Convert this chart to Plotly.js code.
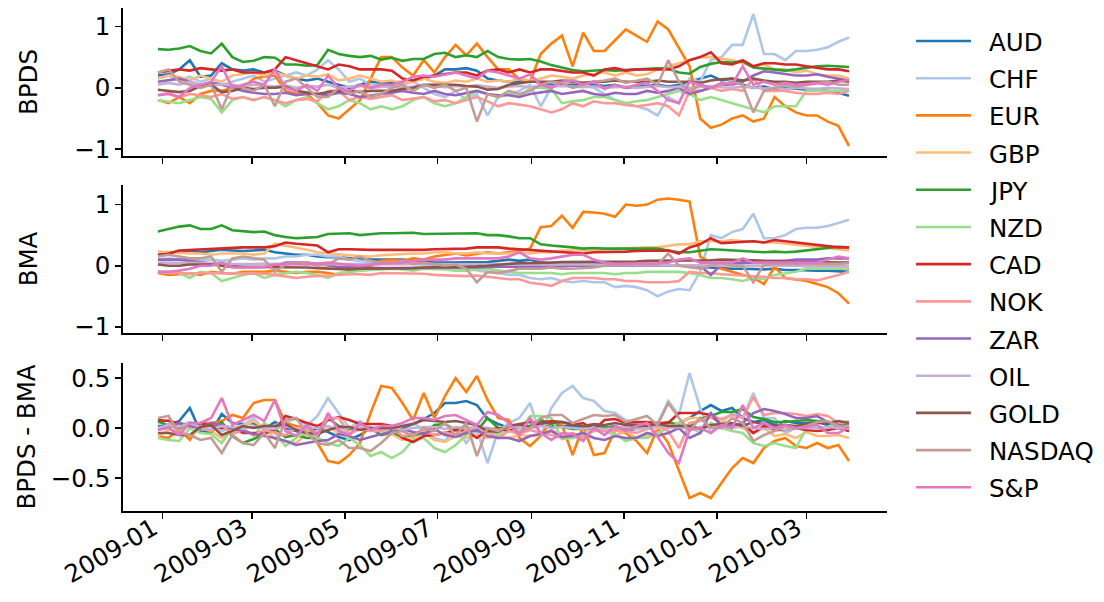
<!DOCTYPE html>
<html>
<head>
<meta charset="utf-8">
<script src="https://cdn.plot.ly/plotly-3.0.1.min.js"></script>
<style>html,body{margin:0;padding:0;background:#fff;}#chart{width:1104px;height:602px;}</style>
</head>
<body>
<div id="chart"></div>
<script>
// Weekly samples, first Monday 2008-12-29, 66 weeks
const startDate = '2008-12-29';
const nWeeks = 66;

const seriesNames = ['AUD','CHF','EUR','GBP','JPY','NZD','CAD','NOK','ZAR','OIL','GOLD','NASDAQ','S&P'];
const seriesColors = ['#1f77b4','#aec7e8','#ff7f0e','#ffbb78','#2ca02c','#98df8a','#d62728','#ff9896','#9467bd','#c5b0d5','#8c564b','#c49c94','#e377c2'];

const panelTitles = ['BPDS','BMA','BPDS - BMA'];
const xTickVals = ['2009-01-01','2009-03-01','2009-05-01','2009-07-01','2009-09-01','2009-11-01','2010-01-01','2010-03-01'];
const xTickText = ['2009-01','2009-03','2009-05','2009-07','2009-09','2009-11','2010-01','2010-03'];

// ---- BPDS ----
const AUD_BPDS = [0.2,0.22,0.3,0.45,0.18,0.2,0.4,0.3,0.28,0.3,0.25,
 0.28,0.2,0.15,0.12,0.15,0.1,0.05,0.0,0.05,0.1,0.08,
 0.08,0.1,0.12,0.15,0.2,0.3,0.3,0.32,0.28,0.15,0.12,
 0.1,0.1,0.12,0.08,0.05,0.05,0.05,0.04,0.05,0.03,0.05,
 0.0,0.02,0.04,0.05,0.02,0.05,0.1,0.15,0.2,0.12,0.15,
 0.05,0.0,0.02,-0.02,0.0,-0.02,-0.03,-0.02,-0.05,-0.08,-0.13];
const CHF_BPDS = [0.15,0.2,0.12,0.18,0.1,0.15,0.05,0.1,0.15,0.2,0.1,
 0.15,0.2,0.25,0.2,0.3,0.45,0.3,0.1,0.15,0.05,0.05,
 0.0,0.05,0.1,0.0,-0.1,-0.15,-0.05,-0.2,-0.1,-0.45,-0.15,
 -0.1,-0.05,0.05,-0.3,0.0,0.1,0.15,0.05,0.0,-0.1,-0.2,
 -0.25,-0.3,-0.35,-0.45,-0.15,-0.25,0.15,0.1,0.45,0.5,0.7,
 0.7,1.2,0.55,0.55,0.45,0.6,0.6,0.62,0.66,0.75,0.82];
const EUR_BPDS = [-0.2,-0.25,-0.15,-0.25,-0.1,-0.05,-0.05,0.0,0.0,0.15,0.18,
 0.2,-0.05,-0.1,-0.1,-0.25,-0.45,-0.5,-0.35,-0.2,0.15,0.5,
 0.5,0.33,0.2,0.45,0.25,0.5,0.7,0.53,0.72,0.5,0.3,
 0.3,0.14,0.1,0.55,0.72,0.85,0.35,0.9,0.6,0.6,0.78,
 0.95,0.85,0.75,1.08,0.95,0.65,0.35,-0.5,-0.65,-0.6,-0.5,
 -0.45,-0.55,-0.5,-0.15,-0.3,-0.4,-0.45,-0.45,-0.55,-0.62,-0.95];
const GBP_BPDS = [0.15,0.2,0.18,0.12,0.2,0.15,0.1,0.2,0.22,0.25,0.2,
 0.25,0.2,0.15,0.2,0.18,0.22,0.12,0.15,0.2,0.15,0.1,
 0.12,0.08,0.1,0.15,0.1,0.08,0.12,0.1,0.15,0.1,0.12,
 0.1,0.15,0.12,0.15,0.2,0.18,0.15,0.2,0.22,0.25,0.2,
 0.25,0.2,0.22,0.3,0.35,0.4,0.45,0.5,0.5,0.48,0.45,
 0.4,0.35,0.38,0.3,0.3,0.25,0.28,0.22,0.2,0.2,0.15];
const JPY_BPDS = [0.63,0.62,0.64,0.68,0.6,0.56,0.72,0.5,0.42,0.44,0.5,
 0.49,0.38,0.38,0.36,0.37,0.62,0.55,0.52,0.5,0.52,0.46,
 0.49,0.44,0.47,0.47,0.55,0.57,0.5,0.53,0.5,0.6,0.5,
 0.47,0.46,0.47,0.43,0.37,0.33,0.29,0.27,0.28,0.29,0.28,
 0.29,0.3,0.3,0.32,0.31,0.25,0.23,0.34,0.39,0.42,0.41,
 0.43,0.33,0.31,0.29,0.28,0.3,0.33,0.35,0.36,0.35,0.34];
const NZD_BPDS = [-0.2,-0.22,-0.25,-0.2,-0.15,-0.18,-0.4,-0.2,-0.15,-0.2,-0.15,
 -0.2,-0.3,-0.2,-0.15,-0.25,-0.35,-0.3,-0.2,-0.25,-0.35,-0.3,
 -0.35,-0.3,-0.2,-0.15,-0.25,-0.3,-0.25,-0.15,-0.05,-0.1,-0.15,
 -0.1,-0.15,0.0,0.0,-0.02,-0.25,-0.22,-0.2,-0.15,-0.15,-0.2,
 -0.25,-0.22,-0.2,-0.15,-0.1,-0.05,-0.1,-0.2,-0.15,-0.2,-0.25,
 -0.3,-0.35,-0.4,-0.3,-0.3,-0.3,-0.05,-0.05,-0.04,-0.05,-0.03];
const CAD_BPDS = [0.25,0.27,0.3,0.28,0.32,0.3,0.28,0.3,0.25,0.25,0.25,
 0.3,0.5,0.45,0.4,0.35,0.3,0.38,0.35,0.3,0.3,0.3,
 0.28,0.15,0.12,0.18,0.2,0.22,0.25,0.25,0.2,0.28,0.3,
 0.25,0.3,0.25,0.3,0.3,0.28,0.25,0.25,0.2,0.3,0.32,
 0.28,0.3,0.3,0.3,0.3,0.35,0.45,0.5,0.58,0.4,0.38,
 0.45,0.35,0.4,0.4,0.38,0.38,0.35,0.32,0.3,0.3,0.27];
const NOK_BPDS = [-0.12,-0.08,-0.15,-0.1,-0.12,-0.15,-0.1,-0.18,-0.15,-0.2,-0.15,
 -0.2,-0.25,-0.2,-0.18,-0.22,-0.05,-0.05,-0.2,-0.15,-0.18,-0.15,
 -0.12,-0.2,-0.18,-0.15,-0.22,-0.2,-0.25,-0.2,-0.15,-0.22,-0.3,
 -0.25,-0.28,-0.3,-0.35,-0.4,-0.35,-0.25,-0.3,-0.22,-0.25,-0.25,
 -0.28,-0.3,-0.28,-0.25,-0.3,-0.45,-0.05,-0.05,0.0,-0.05,-0.02,
 -0.05,0.15,-0.05,-0.05,-0.05,-0.08,-0.1,-0.1,-0.08,-0.1,-0.05];
const ZAR_BPDS = [0.1,0.12,0.15,0.1,0.05,0.08,0.05,0.0,-0.05,-0.08,-0.1,
 -0.1,-0.08,-0.12,-0.1,-0.1,-0.12,-0.08,-0.1,-0.15,-0.12,-0.1,
 -0.08,-0.05,-0.08,-0.1,-0.05,-0.1,-0.12,-0.08,-0.05,-0.1,-0.12,
 -0.12,-0.15,-0.1,-0.08,-0.05,-0.1,-0.08,-0.05,-0.1,-0.12,-0.08,
 -0.1,-0.1,-0.05,-0.08,-0.05,0.0,-0.1,-0.05,0.0,0.05,0.05,
 0.1,0.2,0.27,0.25,0.22,0.2,0.2,0.22,0.18,0.15,0.12];
const OIL_BPDS = [0.05,0.08,0.05,0.1,0.05,0.03,0.06,0.04,0.02,0.05,0.03,
 0.02,0.04,0.0,0.03,0.02,0.05,0.0,0.02,0.03,0.0,0.02,
 0.03,0.0,0.02,0.04,0.03,0.01,0.03,0.02,0.04,0.02,0.0,
 0.02,0.03,0.01,0.04,0.02,0.03,0.02,0.01,0.02,0.0,0.01,
 0.02,0.0,0.01,0.03,0.01,0.02,0.0,0.02,0.03,0.01,0.0,
 0.02,0.0,-0.01,0.0,-0.02,0.0,-0.01,-0.02,0.0,-0.01,-0.02];
const GOLD_BPDS = [-0.03,-0.05,-0.07,-0.05,0.03,0.05,-0.07,-0.05,0.0,-0.02,0.0,
 0.0,0.02,-0.05,-0.08,-0.1,-0.07,-0.05,-0.05,-0.07,-0.05,-0.05,
 -0.05,-0.02,0.0,0.05,0.05,0.04,0.05,0.03,0.02,-0.03,-0.02,
 0.05,0.08,0.1,0.1,0.1,0.12,0.1,0.08,0.1,0.1,0.12,
 0.1,0.1,0.1,0.12,0.1,0.1,0.1,0.08,0.12,0.14,0.15,
 0.12,0.15,0.12,0.1,0.1,0.08,0.1,0.1,0.1,0.12,0.1];
const NASDAQ_BPDS = [0.25,0.3,0.1,0.05,0.0,0.05,-0.35,0.05,0.0,-0.05,0.05,
 -0.3,0.1,0.15,0.0,-0.15,-0.15,0.0,-0.1,-0.05,-0.15,-0.1,
 0.0,0.05,-0.05,0.05,0.0,0.05,-0.05,0.0,-0.55,-0.1,-0.15,
 -0.05,-0.1,-0.05,0.05,0.1,0.08,0.0,0.05,0.1,0.12,0.15,
 0.08,0.12,0.15,0.05,0.45,0.1,-0.05,0.05,0.0,0.05,0.1,
 0.05,-0.4,-0.05,0.0,0.05,0.02,0.05,0.08,0.1,0.05,0.05];
const SP_BPDS = [-0.12,-0.1,-0.15,0.0,0.05,0.1,0.35,0.0,0.05,0.1,0.05,
 0.3,0.0,-0.05,0.05,-0.05,0.2,0.0,-0.05,0.05,0.0,0.05,
 0.05,0.1,0.18,0.2,0.18,0.22,0.25,0.2,0.15,0.28,0.25,
 0.2,0.15,0.22,0.05,0.0,0.1,0.12,0.05,0.1,-0.02,0.05,
 0.0,0.05,0.08,-0.05,-0.2,-0.25,0.1,0.05,0.0,0.08,0.05,
 0.35,0.05,0.1,0.05,0.08,0.05,0.06,0.08,0.05,0.1,0.13];

// ---- BMA ----
const AUD_BMA = [0.18,0.2,0.23,0.25,0.22,0.24,0.26,0.25,0.24,0.25,0.26,
 0.22,0.2,0.18,0.18,0.15,0.14,0.14,0.12,0.12,0.1,0.1,
 0.1,0.1,0.08,0.06,0.05,0.05,0.05,0.05,0.05,0.06,0.08,
 0.1,0.08,0.1,0.05,0.04,0.03,0.03,0.03,0.02,0.03,0.03,
 0.02,0.03,0.02,0.02,0.0,0.0,0.0,-0.02,-0.03,-0.05,-0.05,
 -0.05,-0.06,-0.06,-0.05,-0.07,-0.07,-0.08,-0.08,-0.08,-0.09,-0.1];
const CHF_BMA = [0.1,0.12,0.1,0.12,0.08,0.1,0.08,0.1,0.12,0.1,0.12,
 0.12,0.15,0.15,0.18,0.18,0.15,0.15,0.1,0.08,0.05,0.05,
 0.05,0.03,0.05,0.02,0.0,-0.02,-0.05,-0.05,-0.08,-0.1,-0.12,
 -0.15,-0.15,-0.2,-0.22,-0.2,-0.25,-0.27,-0.25,-0.27,-0.27,-0.35,
 -0.33,-0.35,-0.4,-0.5,-0.42,-0.38,-0.4,-0.1,0.5,0.45,0.55,
 0.6,0.85,0.45,0.45,0.5,0.6,0.62,0.62,0.65,0.7,0.75];
const EUR_BMA = [-0.12,-0.15,-0.14,-0.13,-0.15,-0.1,-0.12,-0.13,-0.1,-0.1,-0.1,
 -0.08,-0.1,-0.12,-0.1,-0.1,-0.12,-0.15,-0.08,-0.05,0.0,0.08,
 0.1,0.08,0.12,0.1,0.15,0.18,0.2,0.17,0.2,0.22,0.2,
 0.22,0.24,0.28,0.63,0.65,0.82,0.62,0.88,0.87,0.85,0.8,
 1.0,0.98,1.0,1.08,1.1,1.08,1.05,0.15,0.05,-0.05,-0.1,
 -0.15,-0.2,-0.3,-0.02,-0.2,-0.22,-0.25,-0.3,-0.35,-0.45,-0.62];
const GBP_BMA = [0.23,0.22,0.2,0.2,0.2,0.18,0.2,0.2,0.2,0.18,0.2,
 0.36,0.33,0.3,0.26,0.22,0.2,0.18,0.17,0.16,0.15,0.17,
 0.18,0.2,0.2,0.2,0.22,0.22,0.2,0.2,0.22,0.2,0.2,
 0.2,0.22,0.2,0.22,0.22,0.25,0.25,0.25,0.25,0.27,0.28,
 0.28,0.3,0.3,0.3,0.32,0.35,0.35,0.4,0.4,0.4,0.42,
 0.4,0.4,0.38,0.38,0.36,0.35,0.32,0.3,0.28,0.27,0.25];
const JPY_BMA = [0.56,0.6,0.64,0.66,0.6,0.6,0.66,0.58,0.57,0.55,0.56,
 0.5,0.47,0.45,0.46,0.47,0.52,0.53,0.53,0.5,0.52,0.53,
 0.53,0.53,0.54,0.52,0.52,0.53,0.52,0.52,0.53,0.5,0.5,
 0.48,0.45,0.45,0.35,0.33,0.32,0.3,0.28,0.29,0.28,0.28,
 0.29,0.29,0.28,0.28,0.25,0.22,0.22,0.25,0.27,0.26,0.25,
 0.24,0.22,0.22,0.23,0.22,0.23,0.25,0.28,0.3,0.31,0.3];
const NZD_BMA = [-0.1,-0.1,-0.12,-0.2,-0.1,-0.12,-0.25,-0.2,-0.15,-0.12,-0.2,
 -0.15,-0.12,-0.1,-0.12,-0.15,-0.2,-0.12,-0.1,-0.08,-0.07,-0.06,
 -0.05,-0.06,-0.08,-0.05,-0.05,-0.06,-0.08,-0.08,-0.06,-0.05,-0.08,
 -0.1,-0.12,-0.12,-0.12,-0.12,-0.14,-0.12,-0.12,-0.12,-0.12,-0.14,
 -0.12,-0.12,-0.1,-0.1,-0.1,-0.1,-0.12,-0.15,-0.2,-0.2,-0.22,
 -0.25,-0.2,-0.22,-0.15,-0.12,-0.1,-0.05,-0.05,-0.05,-0.05,-0.05];
const CAD_BMA = [0.17,0.2,0.25,0.26,0.27,0.28,0.28,0.3,0.3,0.3,0.3,
 0.32,0.38,0.36,0.35,0.33,0.22,0.27,0.27,0.26,0.26,0.26,
 0.26,0.25,0.26,0.26,0.27,0.27,0.27,0.28,0.3,0.3,0.3,
 0.28,0.27,0.25,0.25,0.23,0.22,0.22,0.2,0.22,0.22,0.23,
 0.23,0.24,0.24,0.25,0.25,0.2,0.3,0.35,0.45,0.37,0.38,
 0.4,0.4,0.38,0.42,0.4,0.38,0.37,0.35,0.32,0.3,0.3];
const NOK_BMA = [-0.1,-0.12,-0.12,-0.13,-0.12,-0.12,-0.13,-0.12,-0.13,-0.13,-0.13,
 -0.15,-0.18,-0.2,-0.18,-0.17,-0.15,-0.15,-0.14,-0.14,-0.15,-0.12,
 -0.12,-0.12,-0.12,-0.13,-0.15,-0.16,-0.17,-0.17,-0.16,-0.18,-0.2,
 -0.22,-0.22,-0.28,-0.3,-0.33,-0.25,-0.2,-0.2,-0.2,-0.22,-0.22,
 -0.25,-0.25,-0.27,-0.27,-0.27,-0.25,-0.1,-0.12,-0.12,-0.14,-0.15,
 -0.15,-0.16,-0.18,-0.2,-0.2,-0.22,-0.22,-0.24,-0.2,-0.15,-0.1];
const ZAR_BMA = [0.1,0.1,0.1,0.08,0.05,0.03,0.02,0.0,-0.02,-0.02,-0.02,
 0.0,0.05,0.05,0.05,0.03,0.0,-0.02,-0.02,-0.03,-0.03,-0.04,
 -0.04,-0.04,-0.04,-0.04,-0.04,-0.03,-0.03,-0.03,-0.03,-0.02,-0.02,
 -0.02,-0.02,-0.02,-0.02,-0.02,-0.01,0.0,0.0,0.0,0.0,0.0,
 0.0,0.0,0.0,0.0,0.0,0.0,0.0,0.0,-0.15,0.02,0.03,
 0.05,0.05,0.08,0.08,0.08,0.1,0.1,0.1,0.12,0.12,0.12];
const OIL_BMA = [0.05,0.05,0.04,0.05,0.04,0.04,0.04,0.03,0.03,0.03,0.03,
 0.03,0.02,0.02,0.02,0.02,0.03,0.02,0.02,0.02,0.02,0.02,
 0.02,0.02,0.02,0.03,0.02,0.02,0.02,0.02,0.03,0.02,0.02,
 0.02,0.02,0.02,0.02,0.02,0.02,0.02,0.02,0.02,0.01,0.01,
 0.01,0.01,0.01,0.01,0.01,0.01,0.01,0.01,0.01,0.0,0.0,
 0.0,0.0,0.0,0.0,0.0,0.0,-0.01,-0.01,-0.01,-0.01,-0.01];
const GOLD_BMA = [0.02,0.0,0.0,0.02,0.02,0.02,0.0,-0.02,-0.02,-0.02,-0.02,
 -0.02,-0.02,-0.03,-0.03,-0.04,-0.05,-0.06,-0.06,-0.05,-0.05,-0.05,
 -0.05,-0.04,-0.04,-0.03,-0.02,-0.02,-0.02,-0.02,-0.01,0.0,0.02,
 0.03,0.04,0.04,0.05,0.05,0.06,0.06,0.06,0.06,0.07,0.07,
 0.07,0.07,0.08,0.08,0.08,0.08,0.08,0.09,0.09,0.1,0.1,
 0.1,0.09,0.08,0.08,0.07,0.06,0.06,0.05,0.05,0.05,0.05];
const NASDAQ_BMA = [0.15,0.18,0.15,0.12,0.12,0.15,-0.1,0.12,0.15,0.12,0.1,
 -0.1,0.02,0.05,0.05,0.0,0.02,0.12,0.1,0.15,0.08,0.05,
 0.05,0.08,0.03,0.05,0.03,0.0,0.02,-0.05,-0.27,-0.1,-0.12,
 -0.08,-0.05,-0.05,-0.05,-0.03,-0.05,-0.05,-0.04,-0.03,0.0,0.02,
 0.02,0.03,0.03,0.02,0.2,0.0,-0.02,-0.05,0.0,0.05,0.0,
 0.0,-0.27,0.02,0.03,0.03,0.03,0.03,0.02,0.03,0.03,0.04];
const SP_BMA = [-0.1,-0.1,-0.08,-0.05,0.0,0.0,0.05,-0.03,-0.03,-0.03,-0.02,
 0.02,0.03,0.03,0.02,0.03,0.05,0.03,0.02,0.0,0.02,0.03,
 0.03,0.05,0.08,0.1,0.1,0.1,0.12,0.12,0.12,0.12,0.12,
 0.15,0.22,0.12,0.1,0.12,0.15,0.18,0.18,0.1,0.05,0.03,
 0.03,0.03,0.03,0.04,0.05,0.1,0.12,0.05,0.05,0.05,0.05,
 0.12,0.05,0.05,0.05,0.05,0.05,0.05,0.05,0.1,0.15,0.12];

const BPDS = [AUD_BPDS,CHF_BPDS,EUR_BPDS,GBP_BPDS,JPY_BPDS,NZD_BPDS,CAD_BPDS,NOK_BPDS,ZAR_BPDS,OIL_BPDS,GOLD_BPDS,NASDAQ_BPDS,SP_BPDS];
const BMA = [AUD_BMA,CHF_BMA,EUR_BMA,GBP_BMA,JPY_BMA,NZD_BMA,CAD_BMA,NOK_BMA,ZAR_BMA,OIL_BMA,GOLD_BMA,NASDAQ_BMA,SP_BMA];

// dates
const dates = [];
const d0 = new Date(startDate + 'T00:00:00Z');
for (let i = 0; i < nWeeks; i++) {
  const d = new Date(d0.getTime() + i * 7 * 86400000);
  dates.push(d.toISOString().slice(0, 10));
}

const FONT = 'DejaVu Sans, sans-serif';
const FS = 24.5;

const traces = [];
const panels = [BPDS, BMA, BPDS.map((s, k) => s.map((v, i) => +(v - BMA[k][i]).toFixed(3)))];
panels.forEach((panel, p) => {
  panel.forEach((vals, k) => {
    traces.push({
      type: 'scatter', mode: 'lines',
      x: dates, y: vals,
      name: seriesNames[k],
      legendgroup: seriesNames[k],
      showlegend: false,
      line: {color: seriesColors[k], width: 2.6},
      xaxis: p === 0 ? 'x' : 'x' + (p + 1),
      yaxis: p === 0 ? 'y' : 'y' + (p + 1),
      hoverinfo: 'x+y+name'
    });
  });
});

// legend drawn as line samples + labels (paper coordinates)
const legendLineX0 = 1.038, legendLineX1 = 1.1099, legendTextX = 1.1309;
const legendTopY = 0.9344, legendStepY = 0.07394;
const shapes = [], annotations = [];
seriesNames.forEach((nm, k) => {
  const yy = legendTopY - k * legendStepY;
  shapes.push({type: 'line', xref: 'paper', yref: 'paper', x0: legendLineX0, x1: legendLineX1, y0: yy, y1: yy,
               line: {color: seriesColors[k], width: 2.6}});
  annotations.push({xref: 'paper', yref: 'paper', x: legendTextX, y: yy - 0.003, xanchor: 'left', yanchor: 'middle',
                    text: nm, showarrow: false, font: {family: FONT, size: FS, color: '#000'}});
});

const xRange = ['2008-12-06', '2010-04-23'];
function xax(showLabels) {
  return {
    type: 'date', range: xRange, showgrid: false, zeroline: false,
    showline: true, linecolor: '#000', linewidth: 1.8, mirror: false,
    ticks: 'outside', ticklen: 6, tickwidth: 1.8, tickcolor: '#000',
    tickmode: 'array', tickvals: xTickVals, ticktext: xTickText,
    showticklabels: showLabels, tickangle: -30,
    ticklabelshift: -9, ticklabelstandoff: -14,
    tickfont: {family: FONT, size: FS, color: '#000'}
  };
}
function yax(domain, range, tv, tt, title, standoff) {
  return {
    domain: domain, range: range, showgrid: false, zeroline: false,
    showline: true, linecolor: '#000', linewidth: 1.8, mirror: false,
    ticks: 'outside', ticklen: 6, tickwidth: 1.8, tickcolor: '#000',
    tickmode: 'array', tickvals: tv, ticktext: tt,
    tickfont: {family: FONT, size: FS, color: '#000'},
    title: {text: title, font: {family: FONT, size: FS, color: '#000'}, standoff: standoff}
  };
}

const layout = {
  width: 1104, height: 602,
  margin: {l: 123, r: 217, t: 8, b: 91},
  paper_bgcolor: '#fff', plot_bgcolor: '#fff',
  font: {family: FONT, size: FS, color: '#000'},
  xaxis: Object.assign(xax(false), {anchor: 'y'}),
  xaxis2: Object.assign(xax(false), {anchor: 'y2', matches: 'x'}),
  xaxis3: Object.assign(xax(true), {anchor: 'y3', matches: 'x'}),
  yaxis: Object.assign(yax([0.7058, 1.0], [-1.11, 1.30], [-1, 0, 1], ['\u22121', '0', '1'], panelTitles[0], 29), {anchor: 'x'}),
  yaxis2: Object.assign(yax([0.3539, 0.6481], [-1.10, 1.32], [-1, 0, 1], ['\u22121', '0', '1'], panelTitles[1], 29), {anchor: 'x2'}),
  yaxis3: Object.assign(yax([0.0, 0.2942], [-0.83, 0.65], [-0.5, 0, 0.5], ['\u22120.5', '0.0', '0.5'], panelTitles[2], 8), {anchor: 'x3'}),
  showlegend: false,
  shapes: shapes,
  annotations: annotations
};

Plotly.newPlot('chart', traces, layout, {displayModeBar: false, staticPlot: true});
</script>
</body>
</html>
